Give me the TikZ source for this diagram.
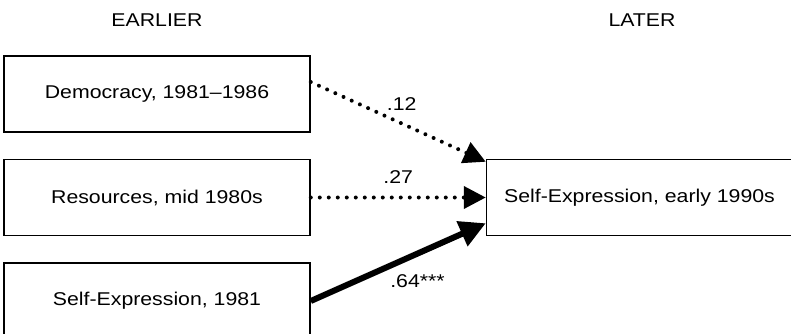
\documentclass[tikz,border=0pt]{standalone}
\usepackage{fontspec}
\setmainfont{Liberation Sans}[FakeStretch=1.15]
\usepackage{tikz}
\usetikzlibrary{arrows.meta,positioning}

\begin{document}
\begin{tikzpicture}[
  x=1pt,y=-1pt,
  every node/.style={font=\fontsize{18.5}{22}\selectfont},
  box/.style={draw,line width=1.5pt,minimum width=306pt,minimum height=76pt,inner sep=0pt},
  weak/.style={line width=4pt,line cap=round,dash pattern=on 0pt off 9pt,-{Triangle[length=22pt,width=22pt]}},
  strong/.style={line width=6pt,-{Triangle[length=26pt,width=26pt]}},
  lbl/.style={inner sep=2pt},
  node distance=26pt and 175pt
]
\useasboundingbox (0,0) rectangle (791,334);
\node[box] (democ) at (157,94) {Democracy, 1981--1986};
\node[box,below=of democ] (resour) {Resources, mid 1980s};
\node[box,below=of resour] (selfold) {Self-Expression, 1981};
\node[box,right=of resour] (selfnew) {Self-Expression, early 1990s};
\node (earlier) at (157,20) {EARLIER};
\node (later) at (642,20) {LATER};
\draw[weak] ([yshift=12pt]democ.east)--node[lbl,above=9pt,pos=0.52]{.12}([yshift=-3pt]selfnew.north west);
\draw[weak] (resour.east)--node[lbl,above=10pt]{.27}(selfnew.west);
\draw[strong] (selfold.east)--node[lbl,below=16pt,pos=0.61]{.64***}([yshift=13pt]selfnew.south west);
\end{tikzpicture}
\end{document}
